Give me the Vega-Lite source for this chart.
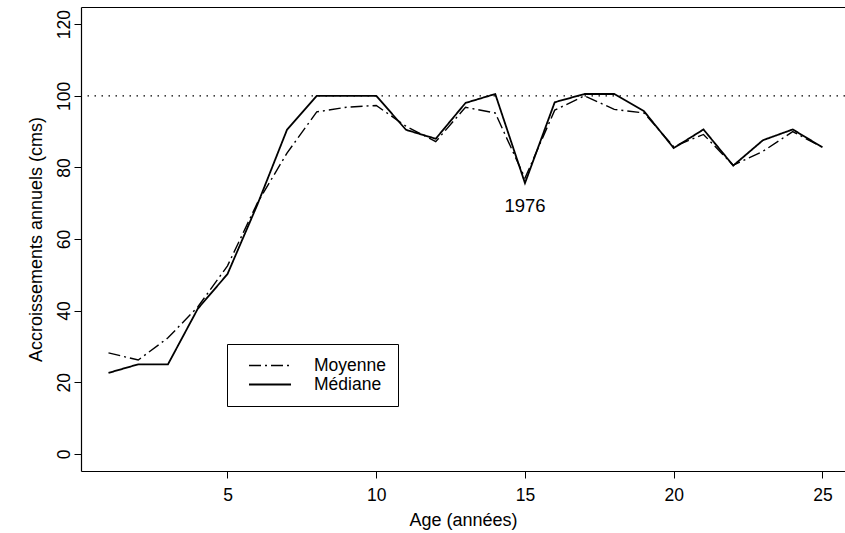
{
  "$schema": "https://vega.github.io/schema/vega-lite/v6.json",
  "autosize": "none",
  "width": 764,
  "height": 464,
  "padding": {"left": 81, "top": 7, "right": 0, "bottom": 62},
  "background": "white",
  "config": {
    "view": {"stroke": null},
    "font": "Liberation Sans",
    "axis": {
      "domainColor": "black", "domainWidth": 1.2,
      "tickColor": "black", "tickWidth": 1, "tickSize": 7,
      "labelColor": "black", "labelFontSize": 17.5, "labelFont": "Liberation Sans",
      "titleColor": "black", "titleFontWeight": "normal", "titleFontSize": 18, "titleFont": "Liberation Sans",
      "grid": false
    }
  },
  "layer": [
    {
      "data": {"values": [{"ref": 100}]},
      "mark": {"type": "rule", "strokeDash": [1.5, 5.5], "strokeWidth": 1.3, "color": "black"},
      "encoding": {
        "y": {"field": "ref", "type": "quantitative", "scale": {"domain": [-4.8, 124.8], "nice": false, "zero": false}}
      }
    },
    {
      "data": {"values": [
        {"age": 1, "serie": "Moyenne", "value": 28.2},
        {"age": 2, "serie": "Moyenne", "value": 26.2},
        {"age": 3, "serie": "Moyenne", "value": 32.4},
        {"age": 4, "serie": "Moyenne", "value": 41},
        {"age": 5, "serie": "Moyenne", "value": 52.5},
        {"age": 6, "serie": "Moyenne", "value": 70},
        {"age": 7, "serie": "Moyenne", "value": 84},
        {"age": 8, "serie": "Moyenne", "value": 95.5},
        {"age": 9, "serie": "Moyenne", "value": 96.8},
        {"age": 10, "serie": "Moyenne", "value": 97.3},
        {"age": 11, "serie": "Moyenne", "value": 91.5},
        {"age": 12, "serie": "Moyenne", "value": 87.2},
        {"age": 13, "serie": "Moyenne", "value": 96.8},
        {"age": 14, "serie": "Moyenne", "value": 95.2},
        {"age": 15, "serie": "Moyenne", "value": 77},
        {"age": 16, "serie": "Moyenne", "value": 96},
        {"age": 17, "serie": "Moyenne", "value": 100},
        {"age": 18, "serie": "Moyenne", "value": 96.2},
        {"age": 19, "serie": "Moyenne", "value": 95.2},
        {"age": 20, "serie": "Moyenne", "value": 85.8},
        {"age": 21, "serie": "Moyenne", "value": 89.2},
        {"age": 22, "serie": "Moyenne", "value": 80.6},
        {"age": 23, "serie": "Moyenne", "value": 84.5},
        {"age": 24, "serie": "Moyenne", "value": 90},
        {"age": 25, "serie": "Moyenne", "value": 85.6},
        {"age": 1, "serie": "Médiane", "value": 22.6},
        {"age": 2, "serie": "Médiane", "value": 25},
        {"age": 3, "serie": "Médiane", "value": 25},
        {"age": 4, "serie": "Médiane", "value": 40.5},
        {"age": 5, "serie": "Médiane", "value": 50.2},
        {"age": 6, "serie": "Médiane", "value": 69.5},
        {"age": 7, "serie": "Médiane", "value": 90.5},
        {"age": 8, "serie": "Médiane", "value": 100},
        {"age": 9, "serie": "Médiane", "value": 100},
        {"age": 10, "serie": "Médiane", "value": 100},
        {"age": 11, "serie": "Médiane", "value": 90.5},
        {"age": 12, "serie": "Médiane", "value": 88},
        {"age": 13, "serie": "Médiane", "value": 98},
        {"age": 14, "serie": "Médiane", "value": 100.5},
        {"age": 15, "serie": "Médiane", "value": 75.6},
        {"age": 16, "serie": "Médiane", "value": 98.2},
        {"age": 17, "serie": "Médiane", "value": 100.5},
        {"age": 18, "serie": "Médiane", "value": 100.5},
        {"age": 19, "serie": "Médiane", "value": 95.7},
        {"age": 20, "serie": "Médiane", "value": 85.4},
        {"age": 21, "serie": "Médiane", "value": 90.6},
        {"age": 22, "serie": "Médiane", "value": 80.5},
        {"age": 23, "serie": "Médiane", "value": 87.6},
        {"age": 24, "serie": "Médiane", "value": 90.6},
        {"age": 25, "serie": "Médiane", "value": 85.6}
      ]},
      "mark": {"type": "line", "color": "black"},
      "encoding": {
        "x": {
          "field": "age", "type": "quantitative",
          "scale": {"domain": [0.076, 25.757], "nice": false, "zero": false},
          "axis": {"orient": "bottom", "values": [5, 10, 15, 20, 25], "title": "Age (années)", "labelPadding": 8, "titlePadding": 8}
        },
        "y": {
          "field": "value", "type": "quantitative",
          "scale": {"domain": [-4.8, 124.8], "nice": false, "zero": false},
          "axis": {"values": [0, 20, 40, 60, 80, 100, 120], "title": "Accroissements annuels (cms)", "labelAngle": -90, "labelAlign": "center", "labelBaseline": "middle", "labelPadding": 10, "titlePadding": 10}
        },
        "strokeDash": {
          "field": "serie", "type": "nominal",
          "scale": {"domain": ["Moyenne", "Médiane"], "range": [[12, 4, 2, 4], [1, 0]]},
          "legend": {
            "orient": "none", "legendX": 146, "legendY": 337, "title": null,
            "strokeColor": "black", "fillColor": "white", "padding": 12,
            "symbolType": "stroke", "symbolSize": 1764, "symbolStrokeWidth": 1.4, "symbolStrokeColor": "black",
            "symbolOffset": 9, "labelOffset": 22, "labelFontSize": 17.5, "labelColor": "black", "labelFont": "Liberation Sans",
            "clipHeight": 19, "rowPadding": 0,
            "labelExpr": "datum.label + '\u00a0\u00a0\u00a0\u00a0'"
          }
        },
        "strokeWidth": {
          "field": "serie", "type": "ordinal",
          "scale": {"domain": ["Moyenne", "Médiane"], "range": [1.4, 1.8]},
          "legend": null
        }
      }
    },
    {
      "data": {"values": [{"age": 15, "value": 69.3, "label": "1976"}]},
      "mark": {"type": "text", "fontSize": 18.5, "color": "black", "baseline": "middle", "align": "center"},
      "encoding": {
        "x": {"field": "age", "type": "quantitative", "axis": {"orient": "top", "labels": false, "ticks": false, "title": null, "domain": true}},
        "y": {"field": "value", "type": "quantitative"},
        "text": {"field": "label"}
      }
    }
  ]
}
